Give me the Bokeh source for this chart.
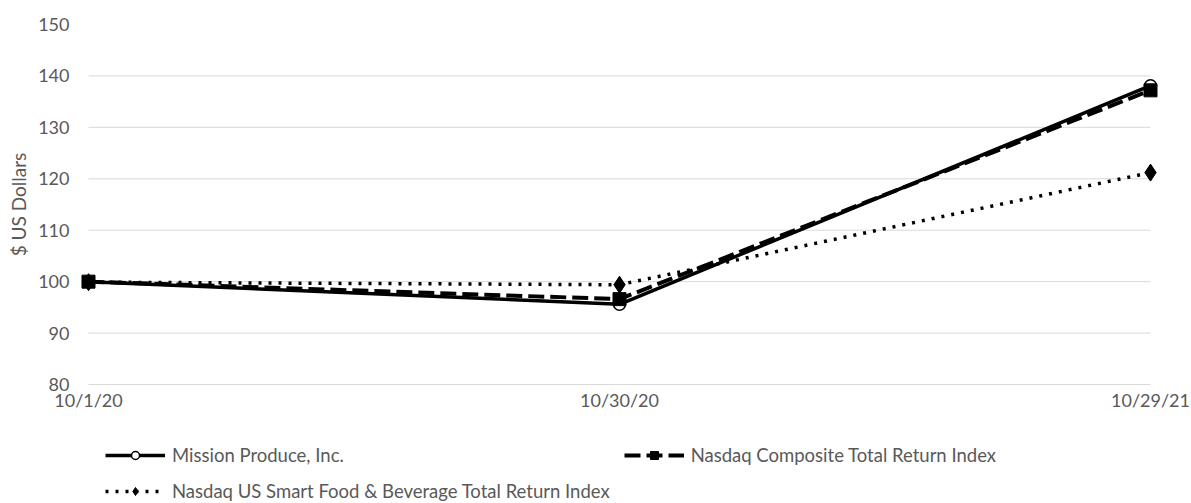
import math
from bokeh.plotting import figure
from bokeh.models import Range1d, Legend, LegendItem, ColumnDataSource
from bokeh.core.properties import value
from bokeh.embed import file_html
from bokeh.resources import INLINE

# ---- data ----
dates = ["10/1/20", "10/30/20", "10/29/21"]
mission = [100.0, 95.6, 138.1]
nasdaq_comp = [100.0, 96.6, 137.2]
smart_food = [99.9, 99.4, 121.2]
y_ticks = [80, 90, 100, 110, 120, 130, 140, 150]
grid_values = [80, 90, 100, 110, 120, 130, 140]

xs = list(range(len(dates)))
FONT = "Lato"
GRAY = "#595959"
W, H = 1191, 503

# whole canvas is the frame; first category at 88px, last at 1150px; 150 at 24px, 80 at 384px
x_px0, x_px1 = 88, 1150
y_px_top, y_px_bot = 24, 384
Y_MIN, Y_MAX = 80, 150
xu = (x_px1 - x_px0) / (xs[-1] - xs[0])
yu = (y_px_bot - y_px_top) / (Y_MAX - Y_MIN)
x_range = Range1d(xs[0] - x_px0 / xu, xs[-1] + (W - x_px1) / xu)
y_range = Range1d(Y_MIN - (H - y_px_bot) / yu, Y_MAX + y_px_top / yu)

p = figure(width=W, height=H, output_backend="svg", toolbar_location=None,
           x_axis_location=None, y_axis_location=None,
           x_range=x_range, y_range=y_range,
           min_border_left=0, min_border_right=0, min_border_top=0, min_border_bottom=0)
p.outline_line_color = None
p.background_fill_color = "white"
p.border_fill_color = "white"
p.xgrid.visible = False
p.ygrid.visible = False

# gridlines spanning only first..last category
grid_src = ColumnDataSource(dict(x0=[xs[0]] * len(grid_values), x1=[xs[-1]] * len(grid_values),
                                 y=grid_values))
p.segment(x0="x0", x1="x1", y0="y", y1="y", source=grid_src, line_color="#d9d9d9", line_width=1)

# category labels under the 80 line
p.text(x=xs, y=[Y_MIN] * len(xs), text=dates, text_align="center", text_baseline="top",
       y_offset=4, text_font=value(FONT), text_font_size="18px", text_color=GRAY)

# value labels
p.text(x=[xs[0]] * len(y_ticks), y=y_ticks, text=[str(t) for t in y_ticks],
       text_align="right", text_baseline="middle", x_offset=-19,
       text_font=value(FONT), text_font_size="18px", text_color=GRAY)

# axis title
p.text(x=[xs[0]], y=[(Y_MIN + Y_MAX) / 2], text=["$ US Dollars"], angle=math.pi / 2,
       text_align="center", text_baseline="middle", x_offset=-70,
       text_font=value(FONT), text_font_size="19px", text_color=GRAY)

# series
r1l = p.line(xs, mission, line_color="black", line_width=3.5)
r1m = p.scatter(xs, mission, marker="circle", size=12, fill_color="white", line_color="black", line_width=1.5)
r2l = p.line(xs, nasdaq_comp, line_color="black", line_width=4, line_dash="16 6")
r2m = p.scatter(xs, nasdaq_comp, marker="square", size=13, fill_color="black", line_color="black")
r3l = p.line(xs, smart_food, line_color="black", line_width=3.5, line_dash="3 7")
r3m = p.scatter(xs, smart_food, marker="diamond", size=17, fill_color="black", line_color="black")

legend = Legend(items=[
    LegendItem(label="Mission Produce, Inc.", renderers=[r1l, r1m]),
    LegendItem(label="Nasdaq US Smart Food & Beverage Total Return Index", renderers=[r3l, r3m]),
    LegendItem(label="Nasdaq Composite Total Return Index", renderers=[r2l, r2m]),
], ncols=2, location=(105, 1), glyph_width=60, glyph_height=20, label_height=20,
    label_width=435, label_standoff=7, padding=0, margin=0, spacing=14,
    border_line_color=None, background_fill_alpha=0,
    label_text_font=FONT, label_text_font_size="18.5px", label_text_color=GRAY)
p.add_layout(legend, "center")

open("out.html", "w").write(file_html(p, INLINE))
